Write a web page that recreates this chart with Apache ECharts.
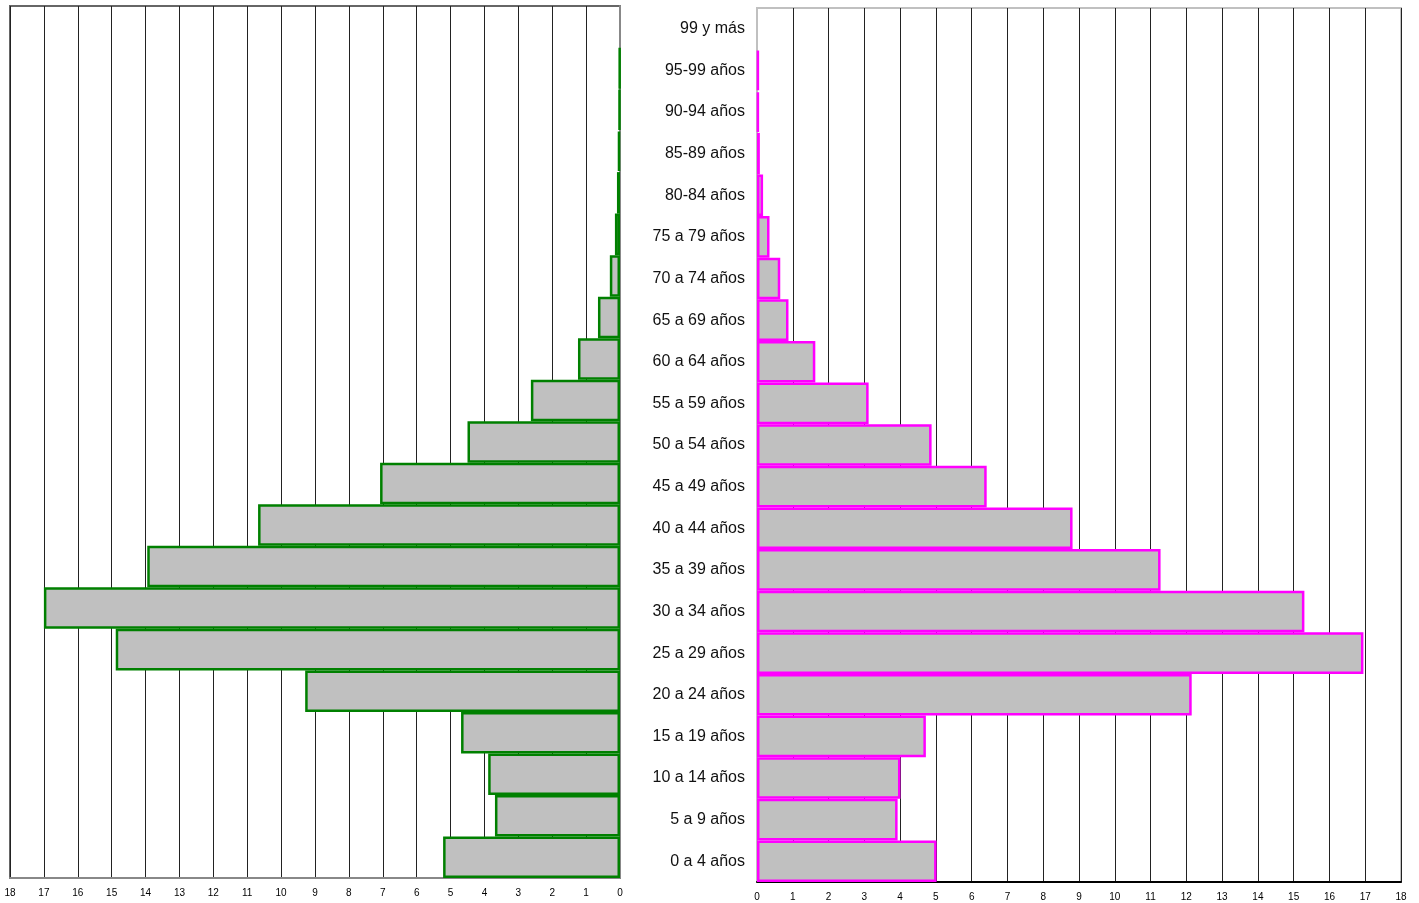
<!DOCTYPE html>
<html><head><meta charset="utf-8">
<script src="https://cdn.jsdelivr.net/npm/echarts@6/dist/echarts.min.js"></script>
<style>html,body{margin:0;padding:0;background:#fff}#c{width:1419px;height:903px}</style>
</head><body><div id="c"></div>
<script>
const categories = ['0 a 4 años','5 a 9 años','10 a 14 años','15 a 19 años','20 a 24 años','25 a 29 años','30 a 34 años','35 a 39 años','40 a 44 años','45 a 49 años','50 a 54 años','55 a 59 años','60 a 64 años','65 a 69 años','70 a 74 años','75 a 79 años','80-84 años','85-89 años','90-94 años','95-99 años','99 y más'];
const hombres = [5.22, 3.69, 3.89, 4.69, 9.29, 14.88, 17.0, 13.95, 10.68, 7.08, 4.5, 2.63, 1.24, 0.65, 0.3, 0.15, 0.09, 0.06, 0.03, 0.02, '-'];
const mujeres = [5.02, 3.93, 4.01, 4.72, 12.15, 16.95, 15.3, 11.28, 8.82, 6.42, 4.88, 3.12, 1.63, 0.88, 0.65, 0.35, 0.17, 0.08, 0.05, 0.05, '-'];
const axisMin = 0, axisMax = 18, axisStep = 1;

const chart = echarts.init(document.getElementById('c'), null, {renderer:'canvas'});
const font = 'Liberation Sans, Arial, sans-serif';
chart.setOption({
  animation:false,
  textStyle:{fontFamily:font},
  grid:[
    {left:10, right:799, top:6, bottom:25, show:true, borderColor:'#666', borderWidth:2, backgroundColor:'transparent'},
    {left:757, right:18, top:8, bottom:21, show:true, borderColor:'#c0c0c0', borderWidth:2, backgroundColor:'transparent'}
  ],
  xAxis:[
    {gridIndex:0, type:'value', inverse:true, min:axisMin, max:axisMax, interval:axisStep,
     axisLine:{show:true, lineStyle:{color:'#888', width:2}}, axisTick:{show:false},
     axisLabel:{fontSize:10, color:'#000', margin:10, fontFamily:font, showMinLabel:true, showMaxLabel:true},
     splitLine:{show:true, lineStyle:{color:'#222', width:1}}},
    {gridIndex:1, type:'value', min:axisMin, max:axisMax, interval:axisStep,
     axisLine:{show:true, lineStyle:{color:'#000', width:2}}, axisTick:{show:false},
     axisLabel:{fontSize:10, color:'#000', margin:10, fontFamily:font, showMinLabel:true, showMaxLabel:true},
     splitLine:{show:true, lineStyle:{color:'#222', width:1}}}
  ],
  yAxis:[
    {gridIndex:0, type:'category', data:categories, position:'right',
     axisLine:{show:true, lineStyle:{color:'#888', width:2}}, axisTick:{show:false}, axisLabel:{show:false}, splitLine:{show:false}},
    {gridIndex:1, type:'category', data:categories, position:'left',
     axisLine:{show:true, lineStyle:{color:'#c0c0c0', width:2}}, axisTick:{show:false},
     axisLabel:{show:true, fontSize:16, color:'#111', margin:12, fontFamily:font}, splitLine:{show:false}}
  ],
  series:[
    {type:'bar', xAxisIndex:0, yAxisIndex:0, data:hombres, barCategoryGap:'0%',
     itemStyle:{color:'#c0c0c0', borderColor:'#008000', borderWidth:2.5}},
    {type:'bar', xAxisIndex:1, yAxisIndex:1, data:mujeres, barCategoryGap:'0%',
     itemStyle:{color:'#c0c0c0', borderColor:'#ff00ff', borderWidth:2.5}}
  ]
});
</script></body></html>
